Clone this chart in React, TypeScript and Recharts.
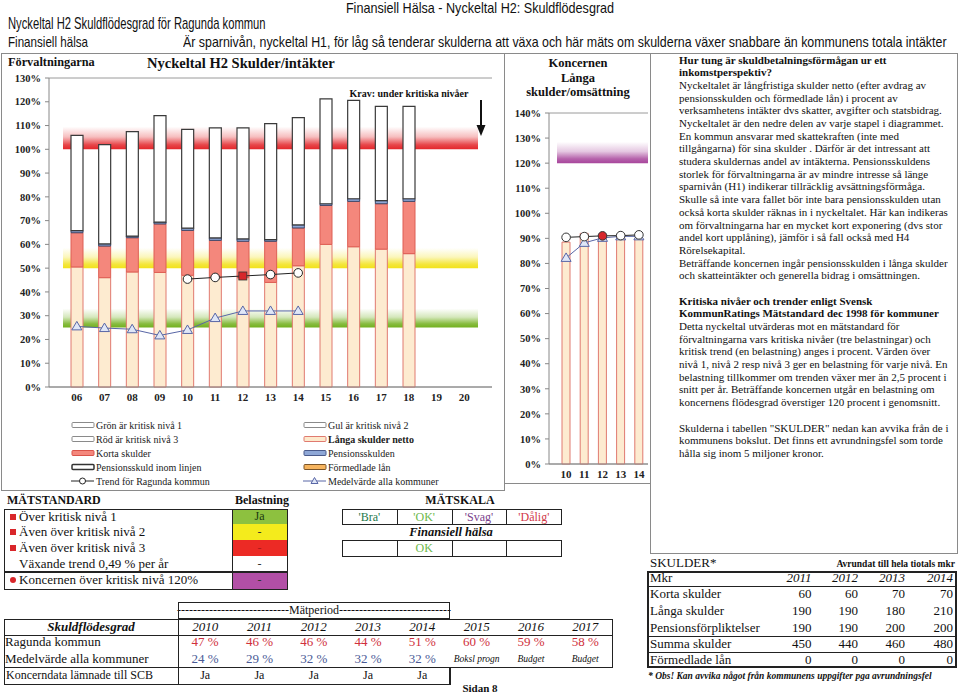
import React from 'react'
import {
  ComposedChart,
  Bar,
  Line,
  XAxis,
  YAxis,
  CartesianGrid,
  ReferenceArea,
} from 'recharts'

const serif = '"Liberation Serif", "Times New Roman", Times, serif'
const narrow = '"Liberation Sans", Arial, sans-serif'

// --- Förvaltningarna: H2 skulder / intäkter (procent) ---
const years = ['06', '07', '08', '09', '10', '11', '12', '13', '14', '15', '16', '17', '18', '19', '20']
const langaSkulder = [50.5, 46.0, 48.4, 48.2, 47, 46, 46, 44, 51, 60, 59, 58, 56.1, null, null]
const kortaSkulder = [14.4, 13.3, 14.4, 20.4, 18.9, 15.7, 15.3, 17.3, 15.9, 16.4, 19.1, 19.1, 22.0, null, null]
const pensionsskulden = [0.9, 0.9, 0.7, 0.8, 0.9, 1.0, 1.0, 0.7, 1.3, 0.7, 1.1, 1.3, 1.1, null, null]
const formedladeLan = [0, 0, 0, 0, 0, 0, 0, 0, 0, 0, 0, 0, 0, null, null]
const pensionInomLinjen = [40.1, 41.8, 43.9, 44.8, 41.6, 46.3, 46.7, 48.8, 45.1, 44.1, 41.4, 39.7, 38.9, null, null]
const trendRagunda = [null, null, null, null, 45.4, 46.1, 46.7, 47.3, 48.0, null, null, null, null, null, null]
const medelKommuner = [25.5, 24.8, 24.3, 21.7, 24, 29, 32, 32, 32, null, null, null, null, null, null]
const markedYear = '12'
const mainTicks = [0, 10, 20, 30, 40, 50, 60, 70, 80, 90, 100, 110, 120, 130]

// kritiska nivåer (band som tonar ut uppåt)
const kritiskaNivaer = [
  { from: 25, to: 33, color: '#72b01e' },
  { from: 50, to: 58.5, color: '#f2e21c' },
  { from: 100, to: 109.5, color: '#e3262a' },
]

// --- Koncernen: långa skulder / omsättning ---
const koncernYears = ['10', '11', '12', '13', '14']
const koncernLanga = [88.5, 92, 90, 90.5, 90]
const koncernTrend = [90.4, 90.7, 91.0, 91.1, 91.4]
const koncernMedel = [82.2, 88.2, 90.2, 90.8, 90.8]
const koncernTicks = [0, 10, 20, 30, 40, 50, 60, 70, 80, 90, 100, 110, 120, 130, 140]
const koncernNiva = { from: 120, to: 128.5, color: '#a8469c' }

// --- tabeller ---
const tabellAr = ['2010', '2011', '2012', '2013', '2014', '2015', '2016', '2017']
const ragundaProcent = [47, 46, 46, 44, 51, 60, 59, 58]
const medelProcent = [24, 29, 32, 32, 32]
const medelNot = ['Boksl progn', 'Budget', 'Budget']
const koncerndataSCB = ['Ja', 'Ja', 'Ja', 'Ja', 'Ja']

const skulderAr = ['2011', '2012', '2013', '2014']
const skulderRader = [
  { label: 'Korta skulder', values: [60, 60, 70, 70] },
  { label: 'Långa skulder', values: [190, 190, 180, 210] },
  { label: 'Pensionsförpliktelser', values: [190, 190, 200, 200] },
  { label: 'Summa skulder', values: [450, 440, 460, 480] },
  { label: 'Förmedlade lån', values: [0, 0, 0, 0] },
]

const matstandard = [
  { label: 'Över kritisk nivå 1', mark: 'square', cell: 'Ja', bg: '#8dc13f' },
  { label: 'Även över kritisk nivå 2', mark: 'square', cell: '-', bg: '#f4eb1c' },
  { label: 'Även över kritisk nivå 3', mark: 'square', cell: '-', bg: '#ec2a25' },
  { label: 'Växande trend 0,49 % per år', mark: '', cell: '-', bg: '#ffffff' },
  { label: 'Koncernen över kritisk nivå 120%', mark: 'circle', cell: '-', bg: '#b24fa6' },
]

const matskala = [
  { label: "'Bra'", color: '#1f7a4c' },
  { label: "'OK'", color: '#6cb84a' },
  { label: "'Svag'", color: '#7b3f8c' },
  { label: "'Dålig'", color: '#d23a4a' },
]
const finansiellHalsa = ['', 'OK', '', '']

const legendLeft = [
  { label: 'Grön är kritisk nivå 1', kind: 'box', fill: '#fff', stroke: '#8a8a8a' },
  { label: 'Röd är kritisk nivå 3', kind: 'box', fill: '#fff', stroke: '#8a8a8a' },
  { label: 'Korta skulder', kind: 'box', fill: '#f4877c', stroke: '#d9534a' },
  { label: 'Pensionsskuld inom linjen', kind: 'box', fill: '#fff', stroke: '#333' },
  { label: 'Trend för Ragunda kommun', kind: 'circle', fill: '#fff', stroke: '#222' },
]
const legendRight = [
  { label: 'Gul är kritisk nivå 2', kind: 'box', fill: '#fff', stroke: '#8a8a8a' },
  { label: 'Långa skulder netto', kind: 'box', fill: '#fde9cc', stroke: '#e07a70', bold: true },
  { label: 'Pensionsskulden', kind: 'box', fill: '#8ea7d6', stroke: '#4a5a8a' },
  { label: 'Förmedlade lån', kind: 'box', fill: '#f6b45e', stroke: '#7a5428' },
  { label: 'Medelvärde alla kommuner', kind: 'triangle', fill: '#dfe6f7', stroke: '#5866a6' },
]

const infoText: { t: string; b?: boolean }[] = [
  { t: 'Hur tung är skuldbetalningsförmågan ur ett', b: true },
  { t: 'inkomstperspektiv?', b: true },
  { t: 'Nyckeltalet är långfristiga skulder netto (efter avdrag av' },
  { t: 'pensionsskulden och förmedlade lån) i procent av' },
  { t: 'verksamhetens intäkter dvs skatter, avgifter och statsbidrag.' },
  { t: 'Nyckeltalet är den nedre delen av varje stapel i diagrammet.' },
  { t: 'En kommun ansvarar med skattekraften (inte med' },
  { t: 'tillgångarna) för sina skulder . Därför är det intressant att' },
  { t: 'studera skuldernas andel av intäkterna. Pensionsskuldens' },
  { t: 'storlek för förvaltningarna är av mindre intresse så länge' },
  { t: 'sparnivån (H1) indikerar tillräcklig avsättningsförmåga.' },
  { t: 'Skulle så inte vara fallet bör inte bara pensionsskulden utan' },
  { t: 'också korta skulder räknas in i nyckeltalet. Här kan indikeras' },
  { t: 'om förvaltningarna har en mycket kort exponering (dvs stor' },
  { t: 'andel kort upplåning), jämför i så fall också med H4' },
  { t: 'Rörelsekapital.' },
  { t: 'Beträffande koncernen ingår pensionsskulden i långa skulder' },
  { t: 'och skatteintäkter och generella bidrag i omsättningen.' },
  { t: '' },
  { t: 'Kritiska nivåer och trender enligt Svensk', b: true },
  { t: 'KommunRatings Mätstandard dec 1998 för kommuner', b: true },
  { t: 'Detta nyckeltal utvärderas mot en mätstandard för' },
  { t: 'förvaltningarna vars kritiska nivåer (tre belastningar) och' },
  { t: 'kritisk trend (en belastning) anges i procent. Värden över' },
  { t: 'nivå 1, nivå 2 resp nivå 3 ger en belastning för varje nivå. En' },
  { t: 'belastning tillkommer om trenden växer mer än 2,5 procent i' },
  { t: 'snitt per år. Beträffande koncernen utgår en belastning om' },
  { t: 'koncernens flödesgrad överstiger 120 procent i genomsnitt.' },
  { t: '' },
  { t: 'Skulderna i tabellen "SKULDER" nedan kan avvika från de i' },
  { t: 'kommunens bokslut. Det finns ett avrundningsfel som torde' },
  { t: 'hålla sig inom 5 miljoner kronor.' },
]

const mainData = years.map((year, i) => ({
  year,
  langa: langaSkulder[i],
  korta: kortaSkulder[i],
  pension: pensionsskulden[i],
  formedlade: formedladeLan[i],
  inom: pensionInomLinjen[i],
  trend: trendRagunda[i],
  medel: medelKommuner[i],
}))

const koncernData = koncernYears.map((year, i) => ({
  year,
  langa: koncernLanga[i],
  trend: koncernTrend[i],
  medel: koncernMedel[i],
}))

interface TxtProps {
  x: number
  y: number
  size?: number
  bold?: boolean
  italic?: boolean
  align?: 'left' | 'center' | 'right'
  color?: string
  font?: string
  scale?: number
  children: React.ReactNode
}

function Txt({ x, y, size = 13, bold, italic, align = 'left', color = '#111', font = serif, scale = 1, children }: TxtProps) {
  const lh = Math.round(size * 1.25)
  const tx = align === 'center' ? '-50%' : align === 'right' ? '-100%' : '0'
  const origin = align === 'center' ? 'center' : align === 'right' ? 'right' : 'left'
  return (
    <div
      style={{
        position: 'absolute',
        left: x,
        top: y - lh / 2,
        lineHeight: `${lh}px`,
        fontSize: size,
        fontWeight: bold ? 700 : 400,
        fontStyle: italic ? 'italic' : 'normal',
        color,
        fontFamily: font,
        whiteSpace: 'nowrap',
        transformOrigin: `${origin} center`,
        transform: `translateX(${tx}) scaleX(${scale})`,
      }}
    >
      {children}
    </div>
  )
}

function Box({ x, y, w, h, border = '1px solid #8a8a8a', bg, style }: any) {
  return (
    <div
      style={{
        position: 'absolute',
        left: x,
        top: y,
        width: w,
        height: h,
        border,
        background: bg,
        boxSizing: 'border-box',
        ...style,
      }}
    />
  )
}

const trendDot = (props: any) => {
  const { cx, cy, payload, index, value } = props
  if (cx == null || cy == null || value == null) return <g key={`td-${index}`} />
  if (payload.year === markedYear) {
    return <rect key={`td-${index}`} x={cx - 4} y={cy - 4} width={8} height={8} fill="#d7262b" stroke="#333" strokeWidth={0.8} />
  }
  return <circle key={`td-${index}`} cx={cx} cy={cy} r={4.3} fill="#fff" stroke="#222" strokeWidth={1} />
}

const koncernTrendDot = (props: any) => {
  const { cx, cy, payload, index, value } = props
  if (cx == null || cy == null || value == null) return <g key={`kd-${index}`} />
  const red = payload.year === markedYear
  return <circle key={`kd-${index}`} cx={cx} cy={cy} r={4.3} fill={red ? '#d7262b' : '#fff'} stroke="#333" strokeWidth={1} />
}

const triangleDot = (props: any) => {
  const { cx, cy, index, value } = props
  if (cx == null || cy == null || value == null) return <g key={`tr-${index}`} />
  return (
    <polygon
      key={`tr-${index}`}
      points={`${cx},${cy - 5} ${cx - 5},${cy + 3.5} ${cx + 5},${cy + 3.5}`}
      fill="#dfe6f7"
      stroke="#5866a6"
      strokeWidth={1}
    />
  )
}

const axisTick = { fontSize: 10.5, fontWeight: 700, fill: '#222', fontFamily: serif }

function Gradient({ id, color }: { id: string; color: string }) {
  return (
    <linearGradient id={id} x1="0" y1="0" x2="0" y2="1">
      <stop offset="0%" stopColor={color} stopOpacity={0} />
      <stop offset="45%" stopColor={color} stopOpacity={0.3} />
      <stop offset="80%" stopColor={color} stopOpacity={0.85} />
      <stop offset="100%" stopColor={color} stopOpacity={1} />
    </linearGradient>
  )
}

// two layers: 'back' draws grid + critical bands, 'front' draws axes and series on top
function MainChart({ layer }: { layer: 'back' | 'front' }) {
  const front = layer === 'front'
  return (
    <ComposedChart
      width={500}
      height={420}
      data={mainData}
      margin={{ top: 18, right: 8, bottom: 73, left: 9 }}
      barGap={0}
    >
      <defs>
        {kritiskaNivaer.map((n, i) => (
          <Gradient key={i} id={`band-${i}`} color={n.color} />
        ))}
      </defs>
      {!front && <CartesianGrid vertical={false} stroke="#9a9a9a" />}
      {!front &&
        kritiskaNivaer.map((n, i) => (
          <ReferenceArea key={i} y1={n.from} y2={n.to} fill={`url(#band-${i})`} fillOpacity={1} stroke="none" />
        ))}
      <XAxis
        dataKey="year"
        interval={0}
        padding={{ left: 14, right: 14 }}
        height={20}
        tickLine={false}
        tickSize={4}
        tickMargin={2}
        axisLine={front ? { stroke: '#888' } : false}
        tick={front ? { ...axisTick, fontSize: 11 } : false}
      />
      <YAxis
        domain={[0, 130]}
        ticks={mainTicks}
        interval={0}
        width={40}
        tickSize={4}
        tickMargin={4}
        tickLine={front ? { stroke: '#888' } : false}
        axisLine={front ? { stroke: '#888' } : false}
        tickFormatter={(v: number) => `${v}%`}
        tick={front ? axisTick : false}
      />
      <YAxis yAxisId="frame" orientation="right" domain={[0, 130]} width={0} tick={false} tickLine={false} axisLine={front ? { stroke: '#999' } : false} />
      {front && (
        <>
          <Bar dataKey="langa" stackId="s" barSize={12} fill="#fdebd0" stroke="#e07a70" strokeWidth={1} isAnimationActive={false} />
          <Bar dataKey="korta" stackId="s" barSize={12} fill="#f4877c" stroke="#de5f55" strokeWidth={1} isAnimationActive={false} />
          <Bar dataKey="pension" stackId="s" barSize={12} fill="#8ea7d6" stroke="#3c4668" strokeWidth={1} isAnimationActive={false} />
          <Bar dataKey="formedlade" stackId="s" barSize={12} fill="#f6b45e" stroke="#7a5428" strokeWidth={1} isAnimationActive={false} />
          <Bar dataKey="inom" stackId="s" barSize={12} fill="#ffffff" stroke="#3a3a3a" strokeWidth={1.2} isAnimationActive={false} />
          <Line dataKey="medel" stroke="#5866a6" strokeWidth={1} dot={triangleDot} activeDot={false} isAnimationActive={false} />
          <Line dataKey="trend" stroke="#222" strokeWidth={1} dot={trendDot} activeDot={false} isAnimationActive={false} />
        </>
      )}
      {!front && <Bar dataKey="langa" barSize={0} fill="none" isAnimationActive={false} />}
    </ComposedChart>
  )
}

function KoncernChart({ layer }: { layer: 'back' | 'front' }) {
  const front = layer === 'front'
  return (
    <ComposedChart
      width={150}
      height={385}
      data={koncernData}
      margin={{ top: 13, right: 7, bottom: 3, left: 4 }}
    >
      <defs>
        <Gradient id="kband" color={koncernNiva.color} />
      </defs>
      {!front && <CartesianGrid vertical={false} stroke="#9a9a9a" />}
      {!front && <ReferenceArea y1={koncernNiva.from} y2={koncernNiva.to} fill="url(#kband)" fillOpacity={1} stroke="none" />}
      <XAxis
        dataKey="year"
        interval={0}
        padding={{ left: 8, right: 0 }}
        height={18}
        tickLine={false}
        tickSize={4}
        tickMargin={2}
        axisLine={front ? { stroke: '#888' } : false}
        tick={front ? { ...axisTick, fontSize: 11 } : false}
      />
      <YAxis
        domain={[0, 140]}
        ticks={koncernTicks}
        interval={0}
        width={40}
        tickSize={4}
        tickMargin={4}
        tickLine={front ? { stroke: '#888' } : false}
        axisLine={front ? { stroke: '#888' } : false}
        tickFormatter={(v: number) => `${v}%`}
        tick={front ? axisTick : false}
      />
      {front && (
        <>
          <Bar dataKey="langa" barSize={8} fill="#fdebd0" stroke="#e07a70" strokeWidth={1} isAnimationActive={false} />
          <Line dataKey="medel" stroke="#5866a6" strokeWidth={1} dot={triangleDot} activeDot={false} isAnimationActive={false} />
          <Line dataKey="trend" stroke="#222" strokeWidth={1} dot={koncernTrendDot} activeDot={false} isAnimationActive={false} />
        </>
      )}
      {!front && <Bar dataKey="langa" barSize={0} fill="none" isAnimationActive={false} />}
    </ComposedChart>
  )
}

function Swatch({ item }: { item: any }) {
  return (
    <svg width={26} height={10} style={{ position: 'absolute', left: 0, top: -5 }}>
      {item.kind === 'box' && <rect x={1} y={2.5} width={22} height={5} rx={1} fill={item.fill} stroke={item.stroke} strokeWidth={item.stroke === '#333' ? 1.5 : 1} />}
      {item.kind !== 'box' && <line x1={0} y1={5} x2={23} y2={5} stroke={item.stroke} strokeWidth={1} />}
      {item.kind === 'circle' && <circle cx={11.5} cy={5} r={3} fill={item.fill} stroke={item.stroke} />}
      {item.kind === 'triangle' && <polygon points="11.5,1.5 8,7.5 15,7.5" fill={item.fill} stroke={item.stroke} />}
    </svg>
  )
}

function LegendColumn({ items, x }: { items: any[]; x: number }) {
  const rowY = [425, 439.3, 453.3, 467.3, 481.3]
  return (
    <>
      {items.map((it, i) => (
        <div key={i} style={{ position: 'absolute', left: x, top: rowY[i] }}>
          <Swatch item={it} />
          <div
            style={{
              position: 'absolute',
              left: 25,
              top: -6.5,
              lineHeight: '13px',
              fontSize: 10,
              fontFamily: serif,
              fontWeight: it.bold ? 700 : 400,
              whiteSpace: 'nowrap',
              color: '#222',
            }}
          >
            {it.label}
          </div>
        </div>
      ))}
    </>
  )
}

export default function App() {
  const dark = '1.5px solid #222'
  const colW = 54.3
  const colX = (i: number) => 178 + i * colW
  const skCols = [811.5, 858, 905, 953]
  const skRowY = [594.3, 610.8, 627.5, 644.2, 660.2]
  const msRowTop = [508.7, 524.3, 540.3, 556, 572, 588.7]

  return (
    <div
      style={{
        position: 'absolute',
        left: 0,
        top: 0,
        width: 959,
        height: 693,
        background: '#fff',
        overflow: 'hidden',
        fontFamily: serif,
      }}
    >
      {/* rubriker */}
      <Txt x={480} y={7} size={15} font={narrow} align="center" scale={0.84}>Finansiell Hälsa - Nyckeltal H2: Skuldflödesgrad</Txt>
      <Txt x={8} y={23} size={17} font={narrow} scale={0.66}>Nyckeltal H2 Skuldflödesgrad för Ragunda kommun</Txt>
      <Txt x={8} y={42} size={14.5} font={narrow} scale={0.8}>Finansiell hälsa</Txt>
      <Txt x={183} y={42} size={14.5} font={narrow} scale={0.855}>
        Är sparnivån, nyckeltal H1, för låg så tenderar skulderna att växa och här mäts om skulderna växer snabbare än kommunens totala intäkter
      </Txt>

      {/* ramar */}
      <Box x={1} y={53} w={504} h={438} />
      <Box x={504} y={53} w={147} h={431} />
      <Box x={650} y={53} w={308} h={501} />

      {/* huvuddiagram */}
      <div style={{ position: 'absolute', left: 0, top: 60 }}>
        <MainChart layer="back" />
      </div>
      <div style={{ position: 'absolute', left: 0, top: 60 }}>
        <MainChart layer="front" />
      </div>
      <Txt x={8} y={62} size={12.3} bold>Förvaltningarna</Txt>
      <Txt x={147} y={63} size={14.5} bold>Nyckeltal H2 Skulder/intäkter</Txt>
      <Txt x={409} y={93} size={10} bold align="center">Krav: under kritiska nivåer</Txt>
      <svg width={12} height={40} style={{ position: 'absolute', left: 475, top: 99 }}>
        <line x1={6} y1={1} x2={6} y2={28} stroke="#111" strokeWidth={2} />
        <polygon points="1.5,26 10.5,26 6,37" fill="#111" />
      </svg>
      <LegendColumn items={legendLeft} x={71} />
      <LegendColumn items={legendRight} x={303} />

      {/* koncerndiagram */}
      <div style={{ position: 'absolute', left: 505, top: 100 }}>
        <KoncernChart layer="back" />
      </div>
      <div style={{ position: 'absolute', left: 505, top: 100 }}>
        <KoncernChart layer="front" />
      </div>
      <Txt x={578} y={63} size={12.5} bold align="center">Koncernen</Txt>
      <Txt x={578} y={77.5} size={12.5} bold align="center">Långa</Txt>
      <Txt x={578} y={92} size={12.5} bold align="center">skulder/omsättning</Txt>

      {/* förklarande text */}
      <div
        style={{
          position: 'absolute',
          left: 679,
          top: 53.6,
          fontSize: 11,
          lineHeight: '12.7px',
          fontFamily: serif,
          color: '#111',
          whiteSpace: 'nowrap',
        }}
      >
        {infoText.map((l, i) => (
          <div key={i} style={{ fontWeight: l.b ? 700 : 400, height: 12.7 }}>
            {l.t || '\u00a0'}
          </div>
        ))}
      </div>

      {/* MÄTSTANDARD */}
      <Txt x={7} y={500.5} size={12} bold>MÄTSTANDARD</Txt>
      <Txt x={235} y={500.5} size={12} bold>Belastning</Txt>
      {matstandard.map((r, i) => (
        <React.Fragment key={i}>
          <Box x={232} y={msRowTop[i]} w={55} h={msRowTop[i + 1] - msRowTop[i]} border="none" bg={r.bg} />
          {r.mark === 'square' && <Box x={10} y={(msRowTop[i] + msRowTop[i + 1]) / 2 - 3} w={6} h={6} border="none" bg="#d9262a" />}
          {r.mark === 'circle' && (
            <Box x={10} y={(msRowTop[i] + msRowTop[i + 1]) / 2 - 3} w={6} h={6} border="none" bg="#d9262a" style={{ borderRadius: 3 }} />
          )}
          <Txt x={19} y={(msRowTop[i] + msRowTop[i + 1]) / 2} size={13}>{r.label}</Txt>
          <Txt x={259.5} y={(msRowTop[i] + msRowTop[i + 1]) / 2} size={12} align="center" color={i === 0 ? '#1b3a10' : i === 2 ? '#b01818' : '#333'}>
            {r.cell}
          </Txt>
        </React.Fragment>
      ))}
      <Box x={4} y={508.7} w={284} h={81} border={dark} />
      <Box x={231.5} y={508.7} w={1.5} h={81} border="none" bg="#222" />
      <Box x={4} y={571.3} w={284} h={1.5} border="none" bg="#222" />

      {/* MÄTSKALA */}
      <Txt x={460} y={500.5} size={12} bold align="center">MÄTSKALA</Txt>
      {matskala.map((m, i) => (
        <React.Fragment key={i}>
          <Box x={342 + i * 54.8} y={509} w={55.8} h={16} border="1.2px solid #222" />
          <Txt x={369.4 + i * 54.8} y={517} size={12} align="center" color={m.color}>{m.label}</Txt>
        </React.Fragment>
      ))}
      <Txt x={451} y={532.3} size={12.5} bold italic align="center">Finansiell hälsa</Txt>
      {finansiellHalsa.map((v, i) => (
        <React.Fragment key={i}>
          <Box x={342 + i * 54.8} y={540} w={55.8} h={16.5} border="1.2px solid #222" />
          <Txt x={369.4 + i * 54.8} y={548.3} size={12} align="center" color="#6cb84a">{v}</Txt>
        </React.Fragment>
      ))}

      {/* Skuldflödesgrad-tabell */}
      <Box x={178} y={602} w={272} h={17} border={dark} />
      <Txt x={314} y={610.5} size={12} align="center">
        ----------------------------Mätperiod----------------------------
      </Txt>
      <Box x={4} y={618.5} w={609} h={17} border={dark} />
      <Box x={4} y={634.5} w={609} h={33} border={dark} style={{ borderTop: 'none' }} />
      <Box x={4} y={666.5} w={446} h={18} border={dark} style={{ borderTop: 'none' }} />
      <Box x={177.5} y={602} w={1.5} h={82} border="none" bg="#222" />
      <Box x={449} y={666.5} w={1.5} h={18} border="none" bg="#222" />
      <Txt x={91} y={627} size={13} bold italic align="center">Skuldflödesgrad</Txt>
      <Txt x={5} y={642.3} size={13}>Ragunda kommun</Txt>
      <Txt x={5} y={659} size={13}>Medelvärde alla kommuner</Txt>
      <Txt x={6} y={675.7} size={12}>Koncerndata lämnade till SCB</Txt>
      {tabellAr.map((a, i) => (
        <React.Fragment key={a}>
          <Txt x={colX(i) + colW / 2} y={627} size={13} italic align="center">{a}</Txt>
          <Txt x={colX(i) + colW / 2} y={642.3} size={13} align="center" color="#d0303c">{`${ragundaProcent[i]} %`}</Txt>
          {i < medelProcent.length ? (
            <Txt x={colX(i) + colW / 2} y={659} size={13} align="center" color="#4a5a96">{`${medelProcent[i]} %`}</Txt>
          ) : (
            <Txt x={colX(i) + colW / 2} y={659} size={9.5} italic align="center">{medelNot[i - medelProcent.length]}</Txt>
          )}
          {i < koncerndataSCB.length && (
            <Txt x={colX(i) + colW / 2} y={675.7} size={12} align="center">{koncerndataSCB[i]}</Txt>
          )}
        </React.Fragment>
      ))}
      <Txt x={480} y={688} size={11} bold align="center">Sidan 8</Txt>

      {/* SKULDER-tabell */}
      <Txt x={650} y={562.7} size={13}>SKULDER*</Txt>
      <Txt x={955} y={563.5} size={9.5} bold align="right">Avrundat till hela tiotals mkr</Txt>
      <Box x={647} y={570.5} w={310} h={97.5} border="2px solid #222" />
      <Box x={647} y={585.5} w={310} h={1.5} border="none" bg="#222" />
      <Box x={647} y={635.5} w={310} h={1.5} border="none" bg="#222" />
      <Box x={647} y={651.5} w={310} h={1.5} border="none" bg="#222" />
      <Txt x={650} y={578.3} size={13}>Mkr</Txt>
      {skulderAr.map((a, i) => (
        <Txt key={a} x={skCols[i]} y={578.3} size={13} italic align="right">{a}</Txt>
      ))}
      {skulderRader.map((r, ri) => (
        <React.Fragment key={r.label}>
          <Txt x={650} y={skRowY[ri]} size={13}>{r.label}</Txt>
          {r.values.map((v, i) => (
            <Txt key={i} x={skCols[i]} y={skRowY[ri]} size={13} align="right">{v}</Txt>
          ))}
        </React.Fragment>
      ))}
      <Txt x={648} y={676} size={9.5} bold italic>* Obs! Kan avvika något från kommunens uppgifter pga avrundningsfel</Txt>
    </div>
  )
}
